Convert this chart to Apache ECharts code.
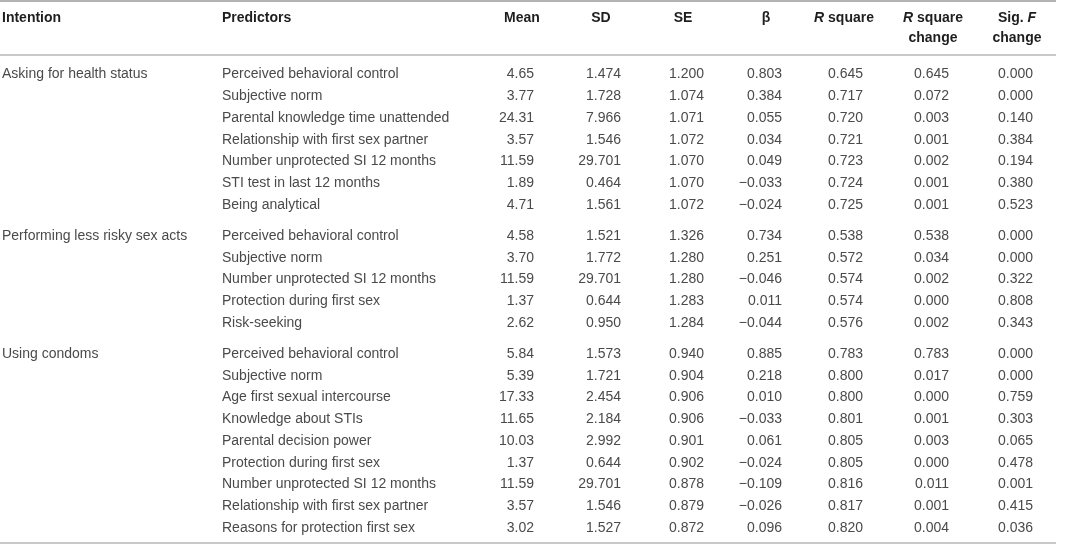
<!DOCTYPE html>
<html><head><meta charset="utf-8">
<script src="https://cdn.jsdelivr.net/npm/echarts@6/dist/echarts.min.js"></script>
<style>html,body{margin:0;padding:0;background:#fff}#chart{width:1091px;height:546px}</style>
</head><body><div id="chart"></div>
<script>
// ---------------- data ----------------
const intentions = ['Asking for health status', 'Performing less risky sex acts', 'Using condoms'];
const groupSizes = [7, 5, 9];
const predictors = [
  'Perceived behavioral control', 'Subjective norm', 'Parental knowledge time unattended',
  'Relationship with first sex partner', 'Number unprotected SI 12 months', 'STI test in last 12 months',
  'Being analytical',
  'Perceived behavioral control', 'Subjective norm', 'Number unprotected SI 12 months',
  'Protection during first sex', 'Risk-seeking',
  'Perceived behavioral control', 'Subjective norm', 'Age first sexual intercourse',
  'Knowledge about STIs', 'Parental decision power', 'Protection during first sex',
  'Number unprotected SI 12 months', 'Relationship with first sex partner', 'Reasons for protection first sex'
];
const mean = [4.65, 3.77, 24.31, 3.57, 11.59, 1.89, 4.71, 4.58, 3.70, 11.59, 1.37, 2.62, 5.84, 5.39, 17.33, 11.65, 10.03, 1.37, 11.59, 3.57, 3.02];
const sd = [1.474, 1.728, 7.966, 1.546, 29.701, 0.464, 1.561, 1.521, 1.772, 29.701, 0.644, 0.950, 1.573, 1.721, 2.454, 2.184, 2.992, 0.644, 29.701, 1.546, 1.527];
const se = [1.200, 1.074, 1.071, 1.072, 1.070, 1.070, 1.072, 1.326, 1.280, 1.280, 1.283, 1.284, 0.940, 0.904, 0.906, 0.906, 0.901, 0.902, 0.878, 0.879, 0.872];
const beta = [0.803, 0.384, 0.055, 0.034, 0.049, -0.033, -0.024, 0.734, 0.251, -0.046, 0.011, -0.044, 0.885, 0.218, 0.010, -0.033, 0.061, -0.024, -0.109, -0.026, 0.096];
const rSquare = [0.645, 0.717, 0.720, 0.721, 0.723, 0.724, 0.725, 0.538, 0.572, 0.574, 0.574, 0.576, 0.783, 0.800, 0.800, 0.801, 0.805, 0.805, 0.816, 0.817, 0.820];
const rSquareChange = [0.645, 0.072, 0.003, 0.001, 0.002, 0.001, 0.001, 0.538, 0.034, 0.002, 0.000, 0.002, 0.783, 0.017, 0.000, 0.001, 0.003, 0.000, 0.011, 0.001, 0.004];
const sigFChange = [0.000, 0.000, 0.140, 0.384, 0.194, 0.380, 0.523, 0.000, 0.000, 0.322, 0.808, 0.343, 0.000, 0.000, 0.759, 0.303, 0.065, 0.478, 0.001, 0.415, 0.036];
const headers = ['Intention', 'Predictors', 'Mean', 'SD', 'SE', 'β', '{i|R} square', '{i|R} square\nchange', 'Sig. {i|F}\nchange'];

// ---------------- layout (style only) ----------------
const FONT = '"Liberation Sans", Arial, Helvetica, sans-serif';
const GROUP_GAP = 0.425;          // extra row units between groups
const Y_MIN = -3.425, Y_MAX = 21.678;
const HEADER_Y1 = -2.6, HEADER_Y2 = -1.68;
const LINE_TOP = -3.37, LINE_HEAD = -0.90, LINE_BOTTOM = 21.55;
const TABLE_RIGHT = 1056;
const BODY_COLOR = '#4a4a4a', HEAD_COLOR = '#1e1e1e';
// column anchors in px along hidden x axis
const textCols = [2, 222];
const numRight = [534, 621, 704, 782, 863, 949, 1033];
const numHeadCenter = [522, 601, 683, 766, 844, 933, 1017];

// row positions from group sizes
const rowPos = [];
groupSizes.forEach((n, g) => {
  for (let k = 0; k < n; k++) { rowPos.push(rowPos.length + g * GROUP_GAP); }
});
const firstRowOfGroup = [];
let acc = 0;
groupSizes.forEach(n => { firstRowOfGroup.push(acc); acc += n; });

const fmt = (v, d) => (v < 0 ? '\u2212' : '') + Math.abs(v).toFixed(d);

function textSeries(name, cells, align, opts) {
  opts = opts || {};
  const color = opts.color || BODY_COLOR;
  return {
    type: 'custom', name, silent: true, coordinateSystem: 'cartesian2d',
    data: cells.map(c => [c.x, c.y]),
    renderItem: (params, api) => {
      const c = cells[params.dataIndex];
      const p = api.coord([api.value(0), api.value(1)]);
      return {
        type: 'text',
        style: {
          x: p[0], y: p[1], text: c.text,
          fill: color,
          font: (opts.weight || 'normal') + ' 14px ' + FONT,
          align: align, verticalAlign: 'middle',
          lineHeight: 20,
          rich: { i: { fontStyle: 'italic', fontWeight: 'bold', fontSize: 14, fontFamily: FONT, fill: color, lineHeight: 20 } }
        }
      };
    }
  };
}

const series = [];
series.push(textSeries('intention', intentions.map((t, g) => ({ x: textCols[0], y: rowPos[firstRowOfGroup[g]], text: t })), 'left'));
series.push(textSeries('predictors', predictors.map((t, i) => ({ x: textCols[1], y: rowPos[i], text: t })), 'left'));
const numCols = [[mean, 2], [sd, 3], [se, 3], [beta, 3], [rSquare, 3], [rSquareChange, 3], [sigFChange, 3]];
numCols.forEach(([arr, d], j) => {
  series.push(textSeries('col' + j, arr.map((v, i) => ({ x: numRight[j], y: rowPos[i], text: fmt(v, d) })), 'right'));
});
const headCells = headers.map((h, j) => {
  const twoLine = h.indexOf('\n') >= 0;
  const y = twoLine ? (HEADER_Y1 + HEADER_Y2) / 2 : HEADER_Y1;
  const x = j < 2 ? textCols[j] : numHeadCenter[j - 2];
  return { x, y, text: h, j };
});
series.push(textSeries('headLeft', headCells.filter(c => c.j < 2), 'left', { weight: 'bold', color: HEAD_COLOR }));
series.push(textSeries('headNum', headCells.filter(c => c.j >= 2), 'center', { weight: 'bold', color: HEAD_COLOR }));
const rule = (y, color, w) => [{ coord: [0, y], lineStyle: { color, width: w } }, { coord: [TABLE_RIGHT, y] }];
series.push({
  type: 'custom', name: 'rules', silent: true, data: [], renderItem: () => null,
  markLine: {
    silent: true, symbol: 'none', label: { show: false }, animation: false,
    lineStyle: { type: 'solid' },
    data: [rule(LINE_TOP, '#9a9a9a', 1.5), rule(LINE_HEAD, '#c8c8c8', 2), rule(LINE_BOTTOM, '#c8c8c8', 2)]
  }
});

const chart = echarts.init(document.getElementById('chart'), null, { renderer: 'canvas' });
chart.setOption({
  animation: false,
  backgroundColor: '#ffffff',
  grid: { left: 0, right: 0, top: 0, bottom: 0 },
  xAxis: { type: 'value', min: 0, max: 1091, show: false },
  yAxis: { type: 'value', min: Y_MIN, max: Y_MAX, inverse: true, show: false },
  series
});
</script></body></html>
